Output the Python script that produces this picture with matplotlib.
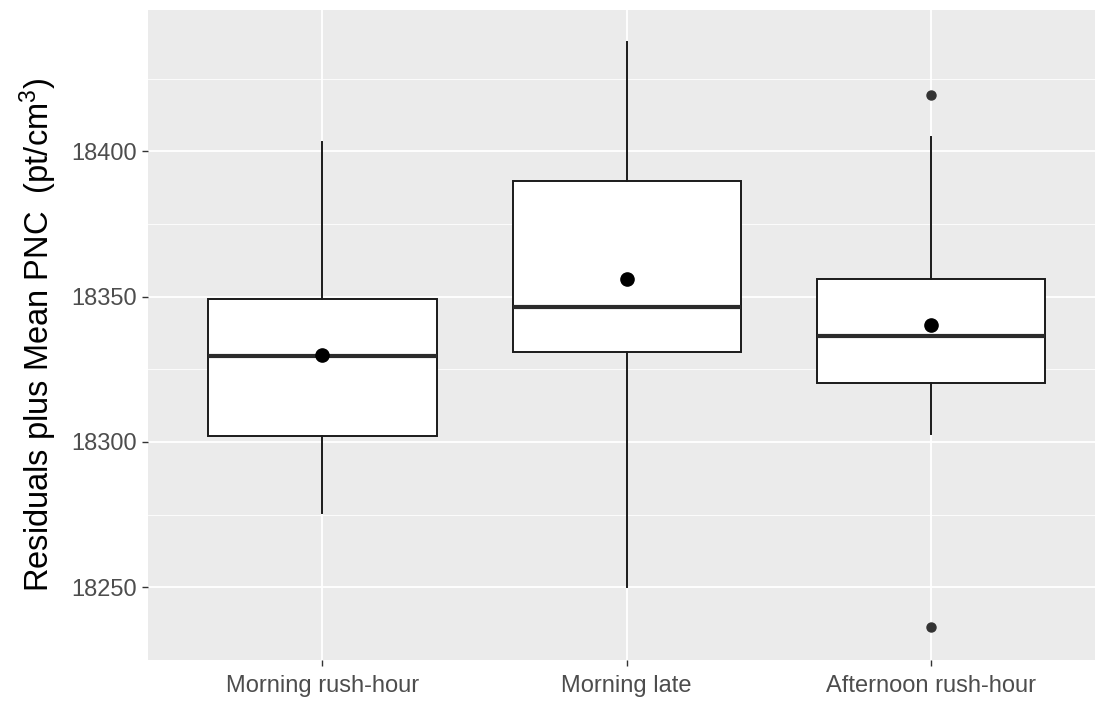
import matplotlib
matplotlib.use("Agg")
import matplotlib.pyplot as plt

plt.rcParams['font.family'] = ['Liberation Sans', 'DejaVu Sans']
plt.rcParams['mathtext.default'] = 'regular'

categories = ["Morning rush-hour", "Morning late", "Afternoon rush-hour"]
whisker_low = [18275.5, 18250.0, 18302.7]
q1 = [18302.0, 18330.9, 18320.4]
median = [18329.5, 18346.5, 18336.3]
q3 = [18349.1, 18389.7, 18356.0]
whisker_high = [18403.2, 18437.6, 18405.0]
means = [18330.0, 18356.2, 18340.4]
outliers = [[], [], [18419.4, 18236.3]]

y_ticks = [18250, 18300, 18350, 18400]
y_minor = [18225, 18275, 18325, 18375, 18425]

fig = plt.figure(figsize=(11.09, 7.07), dpi=100)
ax = fig.add_axes([148/1109, 47/707, (1095-148)/1109, 650/707])
ax.set_facecolor('#EBEBEB')

positions = [1, 2, 3]
stats = []
for i, c in enumerate(categories):
    stats.append(dict(label=c, whislo=whisker_low[i], q1=q1[i], med=median[i],
                      q3=q3[i], whishi=whisker_high[i], fliers=outliers[i]))

ax.bxp(stats, positions=positions, widths=0.75, patch_artist=True, showcaps=False,
       boxprops=dict(facecolor='white', edgecolor='#1a1a1a', linewidth=1.4),
       whiskerprops=dict(color='#1a1a1a', linewidth=1.4),
       medianprops=dict(color='#2b2b2b', linewidth=3.0, solid_capstyle='butt'),
       flierprops=dict(marker='o', markerfacecolor='#333333', markeredgecolor='#333333',
                       markersize=6.5, linestyle='none'),
       zorder=3)

ax.plot(positions, means, linestyle='none', marker='o', color='black',
        markersize=9.5, zorder=5)

ax.set_xlim(0.4265, 3.539)
ax.set_ylim(18229.1, 18448.6)
ax.set_yticks(y_ticks)
ax.set_yticks(y_minor, minor=True)
ax.set_xticks(positions)
ax.set_xticklabels(categories)

ax.grid(True, which='major', color='white', linewidth=1.3, zorder=0)
ax.grid(True, which='minor', axis='y', color='white', linewidth=0.6, zorder=0)
ax.set_axisbelow(True)
for s in ax.spines.values():
    s.set_visible(False)

ax.tick_params(axis='both', which='major', length=4, width=1.0, color='#333333',
               labelcolor='#4D4D4D', labelsize=17)
ax.tick_params(axis='x', which='major', pad=7)
ax.tick_params(axis='y', which='major', pad=4)
ax.tick_params(axis='both', which='minor', length=0)

ax.set_ylabel(r"Residuals plus Mean PNC  (pt/cm$^3$)", fontsize=23.5, color='black', labelpad=9)

fig.savefig("out.png", dpi=100)
